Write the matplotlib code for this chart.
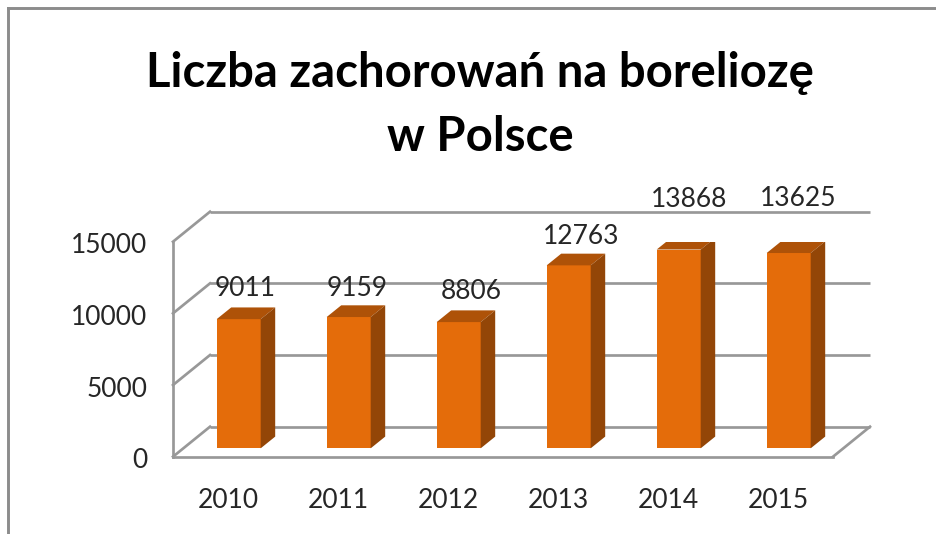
import matplotlib
matplotlib.use("Agg")
import matplotlib.pyplot as plt
from matplotlib.lines import Line2D
from matplotlib.patches import Polygon
from matplotlib.transforms import ScaledTranslation

years = ["2010", "2011", "2012", "2013", "2014", "2015"]
cases = [9011, 9159, 8806, 12763, 13868, 13625]
y_ticks = [0, 5000, 10000, 15000]
title = "Liczba zachorowań na boreliozę\nw Polsce"

W, H = 937, 534
plt.rcParams["font.family"] = ["Lato", "DejaVu Sans"]
fig = plt.figure(figsize=(W / 100, H / 100), dpi=100, facecolor="white")

# plot box in pixels (front plane of the 3D frame)
L, R, B, T = 173, 833, 456.7, 241.7
ax = fig.add_axes([L / W, 1 - B / H, (R - L) / W, (B - T) / H])
ax.set_xlim(-0.5, 5.5)
ax.set_ylim(0, 15000)
ax.patch.set_visible(False)
for s in ax.spines.values():
    s.set_visible(False)

px = 1 / 110                 # x data units per pixel
py = 15000 / (B - T)         # y data units per pixel
GRID = "#989898"
TXT = "#262626"
lw = 2.7 * 0.72

# 3D frame
back_dx, back_dy = 37 * px, 30 * py
for v in y_ticks:
    ax.plot([-0.5 + back_dx, 5.5 + back_dx], [v + back_dy] * 2, color=GRID, lw=lw,
            clip_on=False, zorder=1, solid_capstyle="butt")
    ax.plot([-0.5, -0.5 + back_dx], [v, v + back_dy], color=GRID, lw=lw,
            clip_on=False, zorder=1)
ax.plot([-0.5, -0.5], [0, 15000], color=GRID, lw=lw, clip_on=False, zorder=1)
ax.plot([-0.5, 5.5], [0, 0], color=GRID, lw=lw, clip_on=False, zorder=1)
ax.plot([5.5, 5.5 + back_dx], [0, back_dy], color=GRID, lw=lw, clip_on=False, zorder=1)

# bars
bw = 44 * px
ox, oy = 10.7 * px, 8.4 * py
dx, dy = 14.5 * px, 11.7 * py
FRONT, TOP, SIDE = "#E46C0A", "#AE5208", "#934607"
xs = list(range(len(years)))
ax.bar([x + ox for x in xs], cases, width=bw, bottom=oy, color=FRONT, zorder=3)
for x, v in zip(xs, cases):
    l, r = x + ox - bw / 2, x + ox + bw / 2
    t = v + oy
    ax.add_patch(Polygon([(l, t), (r, t), (r + dx, t + dy), (l + dx, t + dy)],
                         closed=True, fc=TOP, ec="none", zorder=3))
    ax.add_patch(Polygon([(r, oy), (r + dx, oy + dy), (r + dx, t + dy), (r, t)],
                         closed=True, fc=SIDE, ec="none", zorder=3))

# data labels (hand-placed in the source chart): pixel shift from the bar top
label_shift = [(6, 31), (8, 29), (13, 31), (12, 29), (10, 50), (9, 55)]
for x, v, (sx, sy) in zip(xs, cases, label_shift):
    ax.annotate(str(v), (x + ox, v + oy), xytext=(sx * 0.72, sy * 0.72),
                textcoords="offset points", ha="center", va="center",
                fontsize=19, color=TXT, zorder=4, annotation_clip=False)

# ticks
ax.set_xticks(xs, years)
ax.set_yticks(y_ticks, [str(v) for v in y_ticks])
ax.tick_params(axis="x", length=0, pad=22.3, labelsize=19, labelcolor=TXT)
ax.tick_params(axis="y", length=0, pad=18.5, labelsize=19, labelcolor=TXT)
nudge = ScaledTranslation(0, -1.5 / 100, fig.dpi_scale_trans)
for lab in ax.get_yticklabels():
    lab.set_transform(lab.get_transform() + nudge)

# title
fig.text(480 / W, 1 - 105 / H, title, ha="center", va="center", fontsize=34,
         fontweight="bold", color="black", linespacing=1.53)

# outer border (cropped: only top and left edges visible)
BORDER = "#8C8C8C"
fig.add_artist(Line2D([8.5 / W, 8.5 / W], [0, 1 - 8 / H], color=BORDER, lw=2.1))
fig.add_artist(Line2D([8 / W, 1], [1 - 8 / H, 1 - 8 / H], color=BORDER, lw=2.1))

fig.savefig("out.png", dpi=100)
